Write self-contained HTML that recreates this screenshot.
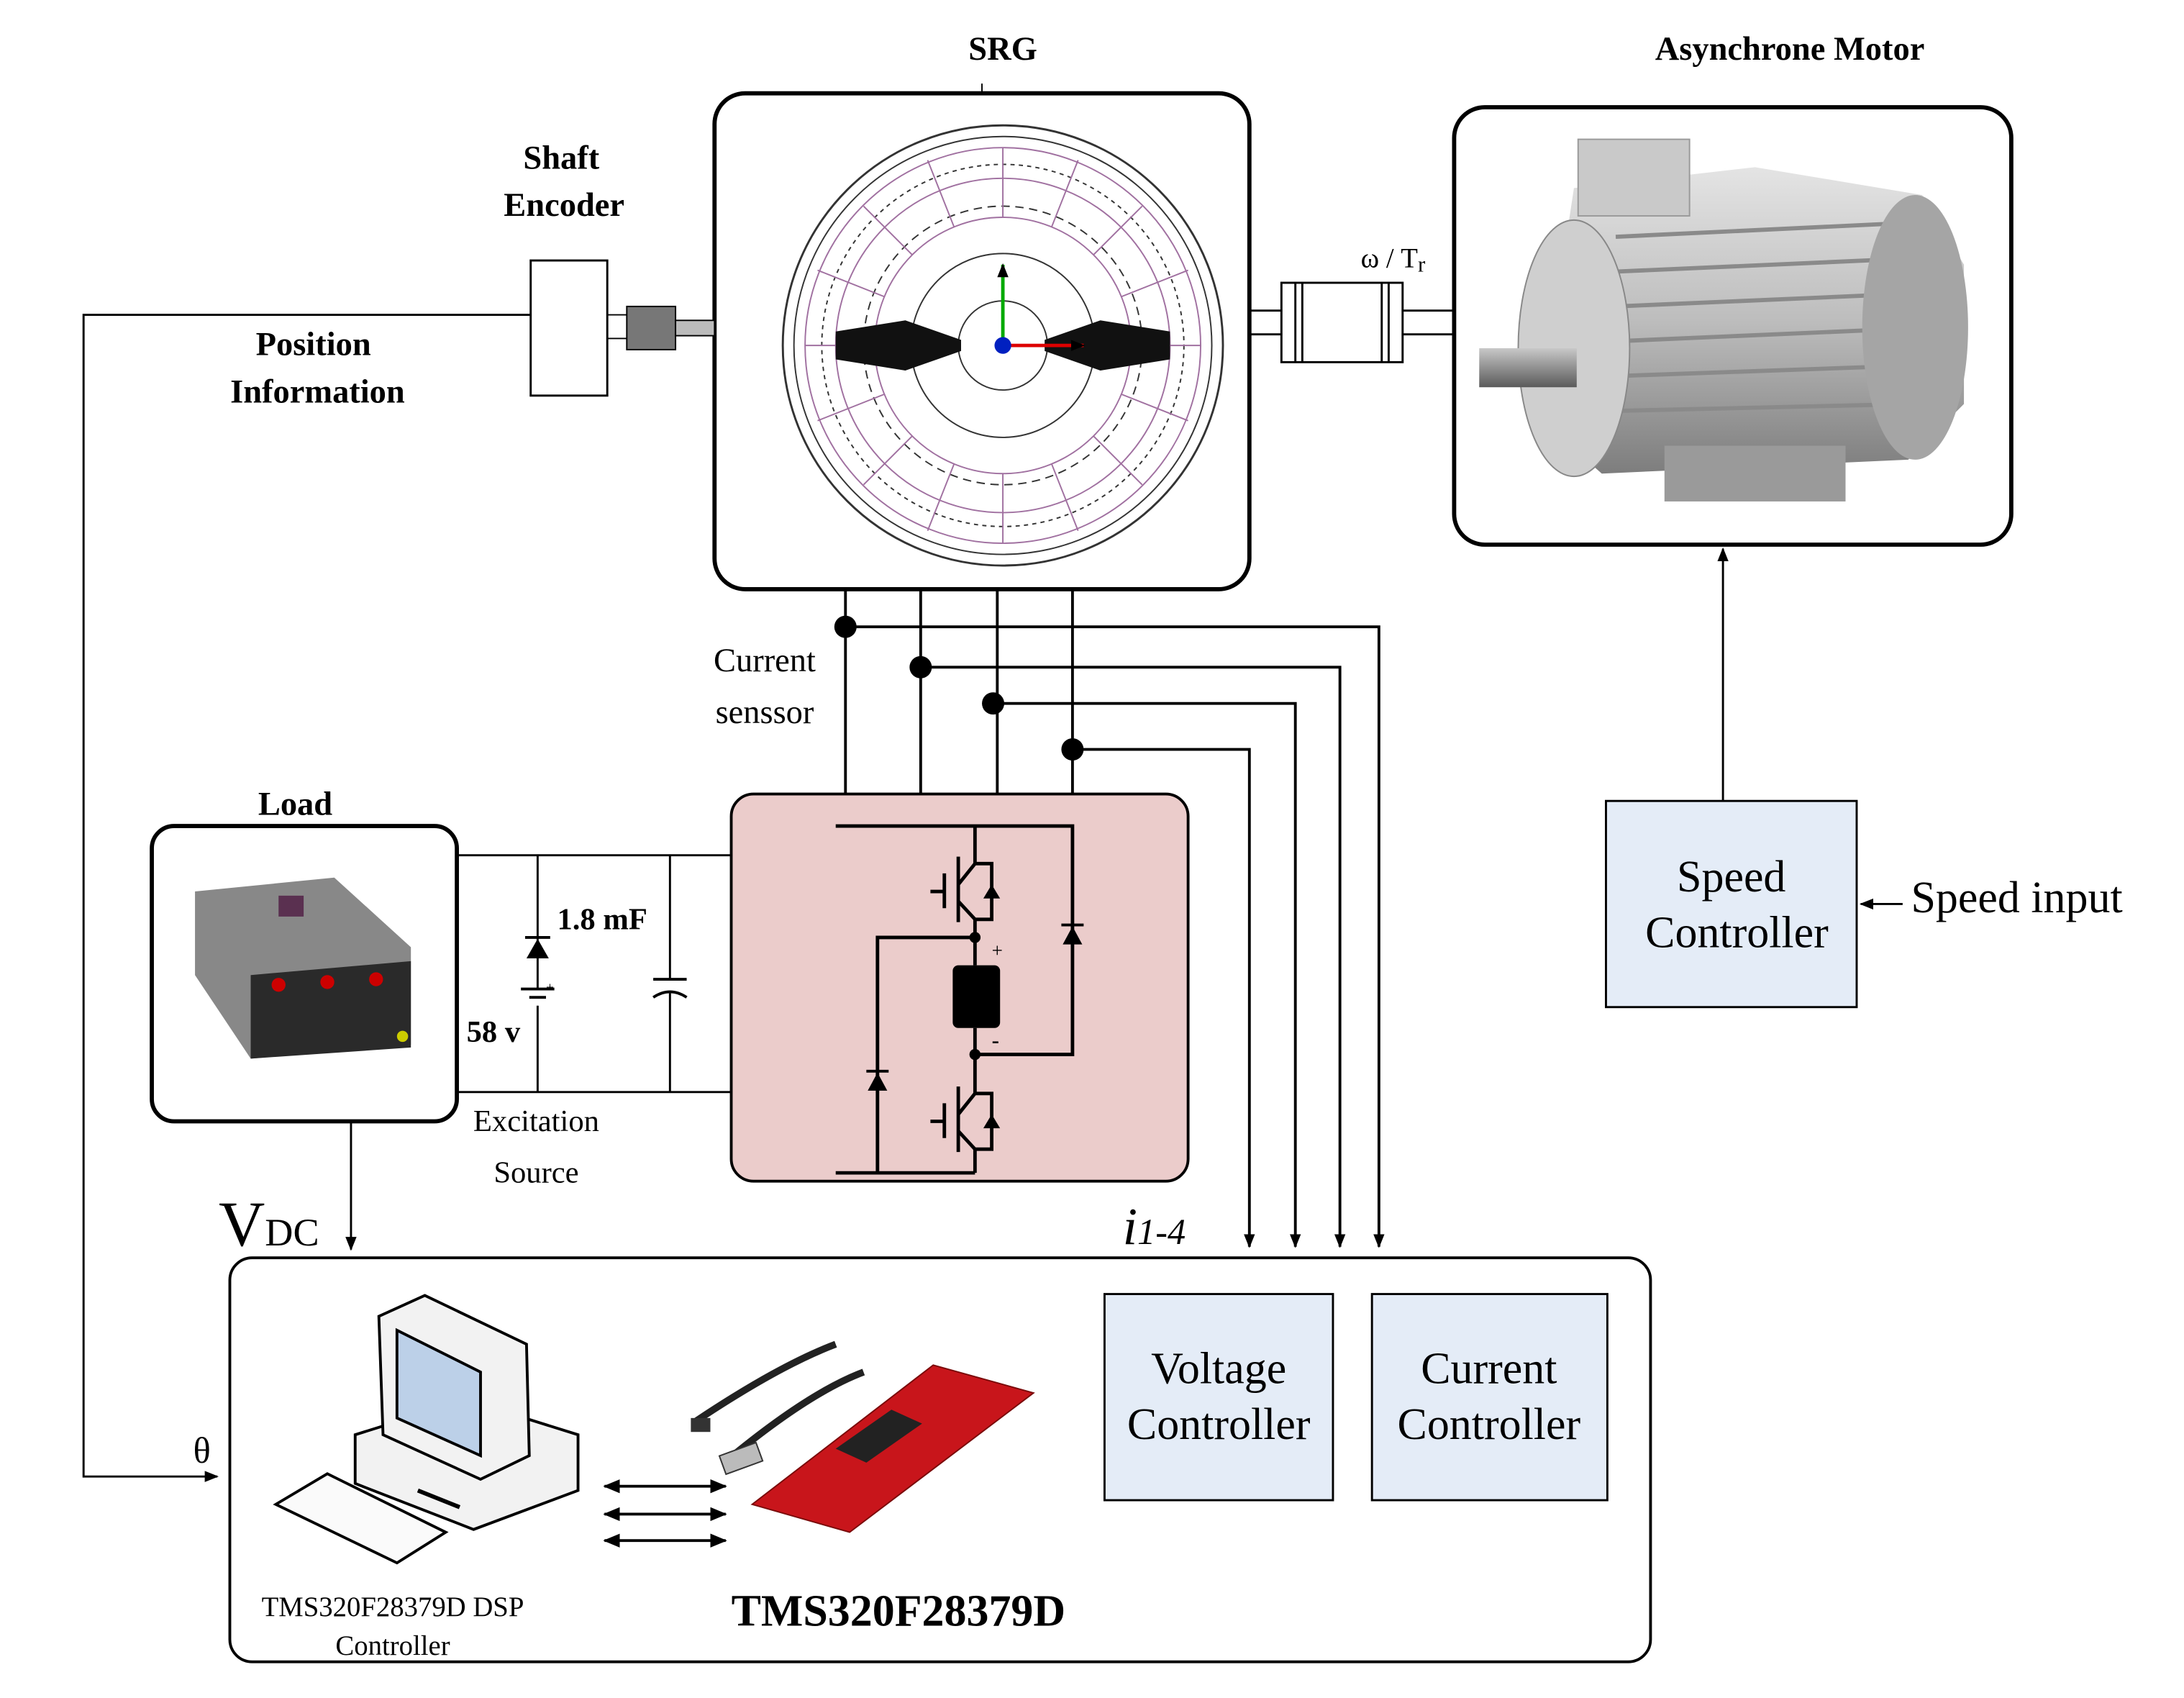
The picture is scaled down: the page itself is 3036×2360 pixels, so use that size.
<!DOCTYPE html>
<html><head><meta charset="utf-8"><style>html,body{margin:0;padding:0;background:#fff}svg{display:block}</style></head>
<body>
<svg width="3036" height="2360" viewBox="0 0 1568 1219" preserveAspectRatio="none" xmlns="http://www.w3.org/2000/svg" font-family="'Liberation Serif', serif">
<defs>
<marker id="ar" markerWidth="10" markerHeight="10" refX="9" refY="5" orient="auto" markerUnits="userSpaceOnUse"><path d="M0,1 L10,5 L0,9 z" fill="#000"/></marker>
<marker id="ar2" markerWidth="12" markerHeight="10" refX="11" refY="5" orient="auto-start-reverse" markerUnits="userSpaceOnUse"><path d="M0,0 L12,5 L0,10 z" fill="#000"/></marker>
<linearGradient id="mg" x1="0" y1="0" x2="0" y2="1"><stop offset="0" stop-color="#e4e4e4"/><stop offset="0.5" stop-color="#bdbdbd"/><stop offset="1" stop-color="#7d7d7d"/></linearGradient>
<linearGradient id="lg" x1="0" y1="0" x2="0" y2="1"><stop offset="0" stop-color="#c8c8c8"/><stop offset="1" stop-color="#5a5a5a"/></linearGradient>
</defs>

<g font-weight="bold" font-size="24" text-anchor="middle">
<text x="720" y="43">SRG</text>
<text x="1285" y="43">Asynchrone Motor</text>
<text x="403" y="121">Shaft</text>
<text x="405" y="155">Encoder</text>
<text x="225" y="255">Position</text>
<text x="228" y="289">Information</text>
<text x="212" y="585">Load</text>
</g>

<rect x="513" y="67" width="384" height="356" rx="22" fill="#fff" stroke="#000" stroke-width="3"/>
<g fill="none" stroke="#333" stroke-width="1">
<circle cx="720" cy="248" r="158" stroke-width="1.5"/>
<circle cx="720" cy="248" r="150"/>
<circle cx="720" cy="248" r="142" stroke="#a070a0"/>
<circle cx="720" cy="248" r="120" stroke="#a070a0"/>
<circle cx="720" cy="248" r="92" stroke="#a070a0"/>
<circle cx="720" cy="248" r="66"/>
<circle cx="720" cy="248" r="32"/>
<circle cx="720" cy="248" r="100" stroke-dasharray="6 4"/>
<circle cx="720" cy="248" r="130" stroke-dasharray="3 3"/>
</g>
<g stroke="#a070a0" stroke-width="1">
<line x1="720" y1="106" x2="720" y2="156"/><line x1="720" y1="340" x2="720" y2="390"/>
<line x1="578" y1="248" x2="628" y2="248"/><line x1="812" y1="248" x2="862" y2="248"/>
<line x1="620" y1="148" x2="655" y2="183"/><line x1="820" y1="148" x2="785" y2="183"/>
<line x1="620" y1="348" x2="655" y2="313"/><line x1="820" y1="348" x2="785" y2="313"/>
<line x1="666" y1="115" x2="685" y2="163"/><line x1="774" y1="115" x2="755" y2="163"/>
<line x1="666" y1="381" x2="685" y2="333"/><line x1="774" y1="381" x2="755" y2="333"/>
<line x1="587" y1="194" x2="635" y2="213"/><line x1="853" y1="194" x2="805" y2="213"/>
<line x1="587" y1="302" x2="635" y2="283"/><line x1="853" y1="302" x2="805" y2="283"/>
</g>
<path d="M650,230 L690,244 L690,252 L650,266 L600,258 L600,238 Z" fill="#111"/>
<path d="M790,230 L750,244 L750,252 L790,266 L840,258 L840,238 Z" fill="#111"/>
<line x1="720" y1="248" x2="720" y2="190" stroke="#0a0" stroke-width="2.5" marker-end="url(#ar)"/>
<line x1="720" y1="248" x2="778" y2="248" stroke="#d00" stroke-width="2.5" marker-end="url(#ar)"/>
<circle cx="720" cy="248" r="6" fill="#0020c0"/>
<line x1="705" y1="60" x2="705" y2="67" stroke="#000"/>

<rect x="381" y="187" width="55" height="97" fill="#fff" stroke="#000" stroke-width="1.5"/>
<line x1="436" y1="226" x2="450" y2="226" stroke="#000"/><line x1="436" y1="243" x2="450" y2="243" stroke="#000"/>
<rect x="450" y="220" width="35" height="31" fill="#777" stroke="#000"/>
<rect x="485" y="230" width="28" height="11" fill="#bbb" stroke="#000"/>
<polyline points="381,226 60,226 60,1060 156,1060" fill="none" stroke="#000" stroke-width="1.5" marker-end="url(#ar)"/>
<text x="145" y="1050" font-size="26" text-anchor="middle">θ</text>

<g stroke="#000" stroke-width="1.5" fill="none">
<line x1="897" y1="223" x2="920" y2="223"/><line x1="897" y1="240" x2="920" y2="240"/>
<line x1="1007" y1="223" x2="1044" y2="223"/><line x1="1007" y1="240" x2="1044" y2="240"/>
<rect x="920" y="203" width="87" height="57"/>
<line x1="930" y1="203" x2="930" y2="260"/><line x1="935" y1="203" x2="935" y2="260"/>
<line x1="992" y1="203" x2="992" y2="260"/><line x1="997" y1="203" x2="997" y2="260"/>
</g>
<text x="977" y="192" font-size="20">ω / T<tspan font-size="16" dy="3">r</tspan></text>

<rect x="1044" y="77" width="400" height="314" rx="22" fill="#fff" stroke="#000" stroke-width="3"/>
<path d="M1130,135 L1260,120 L1380,140 L1410,190 L1410,290 L1370,330 L1150,340 L1105,300 Z" fill="url(#mg)"/>
<g stroke="#8a8a8a" stroke-width="3">
<line x1="1160" y1="170" x2="1370" y2="160"/><line x1="1160" y1="195" x2="1385" y2="185"/><line x1="1160" y1="220" x2="1390" y2="210"/><line x1="1160" y1="245" x2="1390" y2="235"/><line x1="1160" y1="270" x2="1385" y2="262"/><line x1="1160" y1="295" x2="1375" y2="290"/>
</g>
<ellipse cx="1130" cy="250" rx="40" ry="92" fill="#cfcfcf" stroke="#888"/>
<ellipse cx="1375" cy="235" rx="38" ry="95" fill="#a5a5a5"/>
<rect x="1133" y="100" width="80" height="55" fill="#c9c9c9" stroke="#999"/>
<rect x="1062" y="250" width="70" height="28" fill="url(#lg)"/>
<rect x="1195" y="320" width="130" height="40" fill="#9a9a9a"/>

<rect x="1153" y="575" width="180" height="148" fill="#e4ecf7" stroke="#000" stroke-width="1.5"/>
<g font-size="32" text-anchor="middle"><text x="1243" y="640">Speed</text><text x="1247" y="680">Controller</text></g>
<line x1="1237" y1="575" x2="1237" y2="394" stroke="#000" stroke-width="1.5" marker-end="url(#ar)"/>
<line x1="1366" y1="649" x2="1336" y2="649" stroke="#000" stroke-width="1.5" marker-end="url(#ar)"/>
<text x="1372" y="655" font-size="32">Speed input</text>

<g stroke="#000" stroke-width="2" fill="none">
<line x1="607" y1="423" x2="607" y2="570"/><line x1="661" y1="423" x2="661" y2="570"/>
<line x1="716" y1="423" x2="716" y2="570"/><line x1="770" y1="423" x2="770" y2="570"/>
<polyline points="607,450 990,450 990,895" marker-end="url(#ar)"/>
<polyline points="661,479 962,479 962,895" marker-end="url(#ar)"/>
<polyline points="713,505 930,505 930,895" marker-end="url(#ar)"/>
<polyline points="770,538 897,538 897,895" marker-end="url(#ar)"/>
</g>
<g fill="#000"><circle cx="607" cy="450" r="8"/><circle cx="661" cy="479" r="8"/><circle cx="713" cy="505" r="8"/><circle cx="770" cy="538" r="8"/></g>
<g font-size="24" text-anchor="middle"><text x="549" y="482">Current</text><text x="549" y="519">senssor</text></g>

<rect x="525" y="570" width="328" height="278" rx="16" fill="#ebcccb" stroke="#000" stroke-width="2"/>
<g stroke="#000" stroke-width="2.5" fill="none">
<polyline points="600,593 770,593 770,757 700,757"/>
<polyline points="600,842 700,842"/>
<line x1="700" y1="593" x2="700" y2="620"/>
<polyline points="700,620 712,620 712,660 700,660"/>
<line x1="688" y1="615" x2="688" y2="662"/><line x1="678" y1="627" x2="678" y2="652"/><line x1="668" y1="640" x2="678" y2="640"/>
<line x1="688" y1="635" x2="700" y2="620"/><line x1="688" y1="647" x2="700" y2="660"/>
<line x1="700" y1="660" x2="700" y2="693"/>
<polyline points="630,842 630,673 700,673"/>
<line x1="700" y1="738" x2="700" y2="785"/>
<polyline points="700,785 712,785 712,825 700,825"/>
<line x1="688" y1="780" x2="688" y2="827"/><line x1="678" y1="792" x2="678" y2="817"/><line x1="668" y1="805" x2="678" y2="805"/>
<line x1="688" y1="800" x2="700" y2="785"/><line x1="688" y1="812" x2="700" y2="825"/>
<line x1="700" y1="825" x2="700" y2="842"/>
</g>
<rect x="684" y="693" width="34" height="45" rx="4" fill="#000"/>
<g fill="#000"><circle cx="700" cy="673" r="4"/><circle cx="700" cy="757" r="4"/>
<path d="M763,678 L777,678 L770,665 z"/><path d="M623,783 L637,783 L630,770 z"/>
<path d="M706,645 L718,645 L712,635 z"/><path d="M706,810 L718,810 L712,800 z"/></g>
<line x1="762" y1="664" x2="778" y2="664" stroke="#000" stroke-width="2"/>
<line x1="622" y1="769" x2="638" y2="769" stroke="#000" stroke-width="2"/>
<text x="712" y="687" font-size="14">+</text><text x="712" y="752" font-size="16" font-weight="bold">-</text>

<rect x="109" y="593" width="219" height="212" rx="16" fill="#fff" stroke="#000" stroke-width="3"/>
<path d="M140,640 L240,630 L295,680 L295,750 L180,760 L140,700 Z" fill="#888"/>
<path d="M180,700 L295,690 L295,752 L180,760 Z" fill="#2a2a2a"/>
<rect x="200" y="643" width="18" height="15" fill="#5a3050"/>
<g fill="#c00"><circle cx="200" cy="707" r="5"/><circle cx="235" cy="705" r="5"/><circle cx="270" cy="703" r="5"/></g>
<circle cx="289" cy="744" r="4" fill="#cc0"/>

<g stroke="#000" stroke-width="1.5" fill="none">
<line x1="328" y1="614" x2="525" y2="614"/><line x1="328" y1="784" x2="525" y2="784"/>
<line x1="386" y1="614" x2="386" y2="710"/><line x1="386" y1="722" x2="386" y2="784"/>
<line x1="374" y1="710" x2="398" y2="710" stroke-width="2"/><line x1="380" y1="716" x2="392" y2="716" stroke-width="2"/>
<line x1="481" y1="614" x2="481" y2="703"/><line x1="481" y1="713" x2="481" y2="784"/>
<line x1="469" y1="703" x2="493" y2="703" stroke-width="2"/><path d="M469,716 Q481,708 493,716" stroke-width="2"/>
<line x1="377" y1="673" x2="395" y2="673" stroke-width="2"/>
</g>
<path d="M378,688 L394,688 L386,674 z" fill="#000"/>
<text x="392" y="712" font-size="10">+</text>
<g font-weight="bold" font-size="22"><text x="400" y="667">1.8 mF</text><text x="335" y="748">58 v</text></g>
<g font-size="22" text-anchor="middle"><text x="385" y="812">Excitation</text><text x="385" y="849">Source</text></g>
<line x1="252" y1="805" x2="252" y2="897" stroke="#000" stroke-width="1.5" marker-end="url(#ar)"/>
<text x="157" y="894" font-size="46">V<tspan font-size="28">DC</tspan></text>
<text x="806" y="893" font-size="38" font-style="italic">i<tspan font-size="26">1-4</tspan></text>

<rect x="165" y="903" width="1020" height="290" rx="16" fill="#fff" stroke="#000" stroke-width="2"/>
<rect x="793" y="929" width="164" height="148" fill="#e4ecf7" stroke="#000" stroke-width="1.5"/>
<rect x="985" y="929" width="169" height="148" fill="#e4ecf7" stroke="#000" stroke-width="1.5"/>
<g font-size="32" text-anchor="middle"><text x="875" y="993">Voltage</text><text x="875" y="1033">Controller</text>
<text x="1069" y="993">Current</text><text x="1069" y="1033">Controller</text></g>

<g stroke="#000" stroke-width="2">
<path d="M255,1030 L255,1065 L340,1098 L415,1070 L415,1030 L335,1005 Z" fill="#f2f2f2"/>
<path d="M272,945 L305,930 L378,965 L380,1045 L345,1062 L275,1030 Z" fill="#f2f2f2"/>
<path d="M285,955 L345,985 L345,1045 L285,1018 Z" fill="#bcd0e8"/>
<path d="M198,1080 L235,1058 L320,1100 L285,1122 Z" fill="#fafafa"/>
</g>
<line x1="300" y1="1070" x2="330" y2="1082" stroke="#000" stroke-width="3"/>
<g font-size="20" text-anchor="middle"><text x="282" y="1160">TMS320F28379D DSP</text><text x="282" y="1188">Controller</text></g>

<g stroke="#000" stroke-width="2">
<line x1="434" y1="1067" x2="521" y2="1067" marker-start="url(#ar2)" marker-end="url(#ar2)"/>
<line x1="434" y1="1087" x2="521" y2="1087" marker-start="url(#ar2)" marker-end="url(#ar2)"/>
<line x1="434" y1="1106" x2="521" y2="1106" marker-start="url(#ar2)" marker-end="url(#ar2)"/>
</g>

<path d="M540,1080 L670,980 L742,1000 L610,1100 Z" fill="#c8151b" stroke="#7a0a0a"/>
<path d="M600,1040 L640,1012 L662,1022 L622,1050 Z" fill="#222"/>
<path d="M500,1020 Q560,980 600,965 M520,1050 Q580,1000 620,985" stroke="#222" stroke-width="5" fill="none"/>
<rect x="518" y="1040" width="28" height="14" fill="#bbb" stroke="#333" transform="rotate(-20 532 1047)"/>
<rect x="496" y="1018" width="14" height="10" fill="#333"/>
<text x="645" y="1167" font-size="32" font-weight="bold" text-anchor="middle">TMS320F28379D</text>
</svg>
</body></html>
